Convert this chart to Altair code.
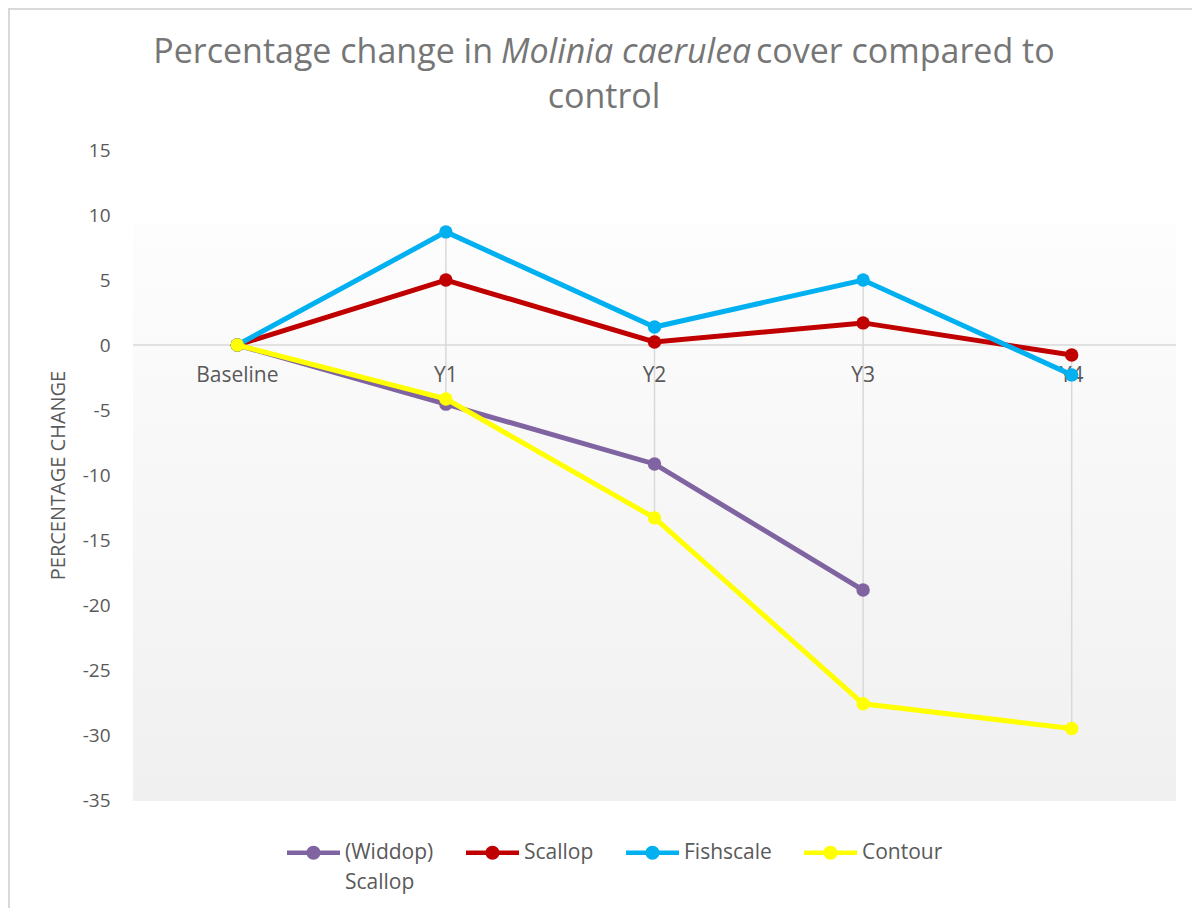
import altair as alt
import pandas as pd

categories = ["Baseline", "Y1", "Y2", "Y3", "Y4"]
series_names = ["(Widdop) Scallop", "Scallop", "Fishscale", "Contour"]
widdop_scallop = [0, -4.55, -9.15, -18.85, None]
scallop = [0, 5.0, 0.23, 1.7, -0.77]
fishscale = [0, 8.7, 1.38, 5.0, -2.3]
contour = [0, -4.15, -13.3, -27.6, -29.5]
colors = ["#8064A2", "#C00000", "#00B0F0", "#FFFF00"]
y_ticks = [-35, -30, -25, -20, -15, -10, -5, 0, 5, 10, 15]

rows = []
for name, vals in zip(series_names, [widdop_scallop, scallop, fishscale, contour]):
    for c, v in zip(categories, vals):
        if v is not None:
            rows.append({"series": name, "category": c, "value": v})
df = pd.DataFrame(rows)

W, H = 1043, 650
FONT = "Open Sans"
GREY = "#595959"

x_scale = alt.Scale(type="point", domain=categories, padding=0.5)
y_scale = alt.Scale(domain=[-35, 15], nice=False, zero=False)
color_scale = alt.Scale(domain=series_names, range=colors)

one = pd.DataFrame({"k": [0]})

# chart border (decoration)
border = alt.Chart(one).mark_rect(fill="#ffffff", fillOpacity=0, stroke="#d9d9d9", strokeWidth=2).encode(
    x=alt.value(-124), x2=alt.value(W + 200), y=alt.value(-141), y2=alt.value(H + 300)
)

# plot-area gradient (decoration)
bg = alt.Chart(one).mark_rect(
    color=alt.Gradient(
        gradient="linear",
        stops=[alt.GradientStop(color="#fdfdfd", offset=0), alt.GradientStop(color="#f0f0f0", offset=1)],
        x1=0, x2=0, y1=0, y2=1,
    )
).encode(x=alt.value(0), x2=alt.value(W), y=alt.value(73), y2=alt.value(651))

zero_rule = alt.Chart(one).mark_rule(color="#d9d9d9", strokeWidth=1.5).encode(
    y=alt.datum(0, scale=y_scale)
)

yaxis = alt.Axis(
    values=y_ticks, grid=False, ticks=False, domain=False,
    labelFont=FONT, labelFontSize=19, labelColor=GREY, labelPadding=23,
    labelExpr="'' + datum.value",
    title="PERCENTAGE CHANGE", titleFont=FONT, titleFontSize=20, titleColor=GREY,
    titleFontWeight="normal", titlePadding=14,
)

drops = alt.Chart(df).transform_aggregate(
    lo="min(value)", hi="max(value)", groupby=["category"]
).mark_rule(color="#d9d9d9", strokeWidth=1.5).encode(
    x=alt.X("category:N", scale=x_scale, axis=None),
    y=alt.Y("lo:Q", scale=y_scale, axis=yaxis),
    y2="hi:Q",
)

cat_df = pd.DataFrame({"category": categories, "zero": [0] * len(categories)})
cat_labels = alt.Chart(cat_df).mark_text(
    dy=31, fontSize=21, font=FONT, color=GREY
).encode(
    x=alt.X("category:N", scale=x_scale, axis=None),
    y=alt.Y("zero:Q", scale=y_scale),
    text="category:N",
)

legend = alt.Legend(
    title=None, orient="none", direction="horizontal", legendX=154, legendY=676,
    symbolType="M-1,-0.087L1,-0.087L1,0.087L-1,0.087Z M0.264,0A0.264,0.264 0 1 1 -0.264,0A0.264,0.264 0 1 1 0.264,0Z",
    symbolSize=2809, symbolStrokeWidth=0, symbolOpacity=1,
    labelFont=FONT, labelFontSize=21, labelColor=GREY, labelOffset=5,
    columnPadding=32, padding=0, labelLimit=300, labelBaseline="middle",
    labelExpr="datum.label == '(Widdop) Scallop' ? '(Widdop)' : datum.label",
)
# second line of the wrapped legend label "(Widdop) Scallop"
legend_wrap = alt.Chart(one).mark_text(
    align="left", baseline="middle", font=FONT, fontSize=21, color=GREY
).encode(x=alt.value(212), y=alt.value(733), text=alt.value("Scallop"))

series_layers = []
for name, col in zip(series_names, colors):
    base = alt.Chart(df).transform_filter(alt.datum.series == name)
    line = base.mark_line(strokeWidth=5, color=col).encode(
        x=alt.X("category:N", scale=x_scale, axis=None),
        y=alt.Y("value:Q", scale=y_scale),
    )
    pts = base.mark_circle(size=180, opacity=1).encode(
        x=alt.X("category:N", scale=x_scale, axis=None),
        y=alt.Y("value:Q", scale=y_scale),
        color=alt.Color("series:N", scale=color_scale, legend=legend),
    )
    series_layers += [line, pts]

TITLE_COLOR = "#767676"
TFS = 34
title_left = alt.Chart(one).mark_text(
    align="right", baseline="middle", font=FONT, fontSize=TFS, color=TITLE_COLOR
).encode(x=alt.value(360), y=alt.value(-97), text=alt.value("Percentage change in"))
title_ital = alt.Chart(one).mark_text(
    align="left", baseline="middle", font=FONT, fontSize=TFS, fontStyle="italic", color=TITLE_COLOR
).encode(x=alt.value(368), y=alt.value(-97), text=alt.value("Molinia caerulea"))
title_right = alt.Chart(one).mark_text(
    align="left", baseline="middle", font=FONT, fontSize=TFS, color=TITLE_COLOR
).encode(x=alt.value(623), y=alt.value(-97), text=alt.value("cover compared to"))
title_l2 = alt.Chart(one).mark_text(
    align="center", baseline="middle", font=FONT, fontSize=TFS, color=TITLE_COLOR
).encode(x=alt.value(471), y=alt.value(-52), text=alt.value("control"))

chart = alt.layer(
    border, bg, zero_rule, drops, cat_labels, *series_layers,
    title_left, title_ital, title_right, title_l2, legend_wrap,
).properties(
    width=W, height=H,
    padding={"left": 125, "top": 142, "right": 16, "bottom": 108},
    autosize=alt.AutoSizeParams(type="none"),
).configure_view(stroke=None)

chart.save("out.html", embed_options={"renderer": "svg", "actions": False})
